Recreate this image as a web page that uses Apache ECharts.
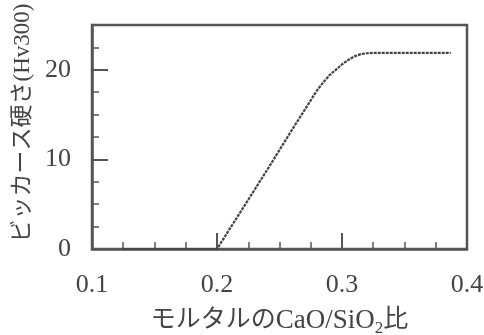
<!DOCTYPE html>
<html>
<head>
<meta charset="utf-8">
<script src="https://cdn.jsdelivr.net/npm/echarts@6/dist/echarts.min.js"></script>
<style>
  html, body { margin: 0; padding: 0; background: #fff; }
  #chart { width: 484px; height: 335px; }
</style>
</head>
<body>
<div id="chart"></div>
<script>
// CaO/SiO2 ratio vs Vickers hardness
const ratio = [0.125, 0.15, 0.175, 0.2, 0.22, 0.24, 0.26, 0.28, 0.285, 0.29, 0.295, 0.30, 0.305, 0.31, 0.315, 0.32, 0.325, 0.35, 0.37, 0.387];
const hardness = [0, 0, 0, 0, 4.4, 8.8, 13.3, 17.7, 18.6, 19.4, 20.0, 20.6, 21.1, 21.5, 21.75, 21.85, 21.9, 21.9, 21.9, 21.9];
const xTicks = [0.1, 0.2, 0.3, 0.4];
const yTicks = [0, 10, 20];

const serif = "'Liberation Serif', 'Noto Sans CJK JP', serif";
const frame = "#555";
const textColor = "#444";

const chart = echarts.init(document.getElementById("chart"));

const option = {
  animation: false,
  backgroundColor: "#fff",
  grid: {
    left: 92,
    right: 17,
    top: 25,
    bottom: 86,
    outerBoundsMode: "none",
    show: true,
    borderColor: frame,
    borderWidth: 2.5,
  },
  xAxis: {
    type: "value",
    min: xTicks[0],
    max: xTicks[xTicks.length - 1],
    interval: 0.1,
    axisLine: { lineStyle: { color: frame, width: 2.5 } },
    axisTick: { inside: true, length: 16, lineStyle: { color: frame, width: 2 } },
    minorTick: { show: true, splitNumber: 4, length: 7, lineStyle: { color: frame, width: 1.5 } },
    splitLine: { show: false },
    axisLabel: {
      margin: 23,
      color: textColor,
      fontFamily: serif,
      fontSize: 26,
      formatter: (v) => v.toFixed(1),
    },
    name: "{j|モルタルの}{a|CaO/SiO}{s|2}{j|比}",
    nameLocation: "middle",
    nameGap: 55,
    nameTextStyle: {
      rich: {
        j: { fontFamily: serif, fontSize: 25, color: textColor },
        a: { fontFamily: serif, fontSize: 27, color: textColor },
        s: { fontFamily: serif, fontSize: 17, color: textColor, padding: [16, 0, 0, 0] },
      },
    },
  },
  yAxis: [
    {
      type: "value",
      min: 0,
      max: 25,
      interval: 10,
      axisLine: { lineStyle: { color: frame, width: 2.5 } },
      axisTick: { inside: true, length: 16, lineStyle: { color: frame, width: 2 } },
      splitLine: { show: false },
      axisLabel: {
        margin: 21,
        color: textColor,
        fontFamily: serif,
        fontSize: 26,
        formatter: (v) => (yTicks.includes(v) ? String(v) : ""),
      },
    },
    {
      // short ticks every 2.5
      type: "value",
      position: "left",
      min: 0,
      max: 25,
      interval: 2.5,
      axisLine: { show: false },
      axisTick: { inside: true, length: 7, lineStyle: { color: frame, width: 1.5 } },
      axisLabel: { show: false },
      splitLine: { show: false },
    },
  ],
  graphic: [
    {
      type: "text",
      x: 23,
      y: 123,
      rotation: Math.PI / 2,
      style: {
        text: "ビッカース硬さ(Hv300)",
        font: "23px " + serif,
        fill: textColor,
        align: "center",
        verticalAlign: "middle",
      },
    },
  ],
  series: [
    {
      type: "line",
      yAxisIndex: 0,
      data: ratio.map((x, i) => [x, hardness[i]]),
      showSymbol: false,
      lineStyle: { color: "#444", width: 2.2, type: [3, 1] },
    },
  ],
};

chart.setOption(option);
</script>
</body>
</html>
